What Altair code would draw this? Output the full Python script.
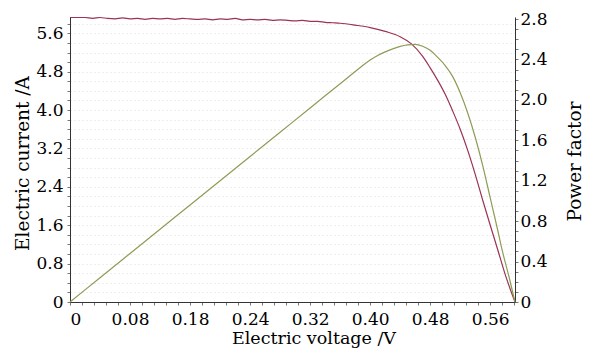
import altair as alt
import pandas as pd

# ---- data ----
voltage_i = [0.00, 0.01, 0.02, 0.03, 0.04, 0.05, 0.06, 0.07, 0.08, 0.09,
             0.10, 0.11, 0.12, 0.13, 0.14, 0.15, 0.16, 0.17, 0.18, 0.19,
             0.20, 0.21, 0.22, 0.23, 0.24, 0.25, 0.26, 0.27, 0.28, 0.29,
             0.30, 0.31, 0.32, 0.33, 0.34, 0.35, 0.36, 0.38, 0.40, 0.42,
             0.44, 0.455, 0.47, 0.48, 0.49, 0.50, 0.51, 0.52, 0.53, 0.54,
             0.55, 0.56, 0.57, 0.58, 0.593]
current = [5.93, 5.93, 5.93, 5.91, 5.93, 5.91, 5.90, 5.92, 5.90, 5.91,
           5.89, 5.91, 5.90, 5.91, 5.89, 5.91, 5.90, 5.89, 5.90, 5.88,
           5.90, 5.89, 5.91, 5.88, 5.89, 5.88, 5.89, 5.87, 5.88, 5.87,
           5.86, 5.87, 5.85, 5.85, 5.83, 5.82, 5.81, 5.77, 5.72, 5.64,
           5.53, 5.38, 5.12, 4.88, 4.62, 4.33, 3.98, 3.60, 3.16, 2.66,
           2.12, 1.60, 1.09, 0.57, 0.00]

voltage_p = [0.00, 0.04, 0.08, 0.12, 0.16, 0.20, 0.24, 0.28, 0.32, 0.36,
             0.38, 0.39, 0.40, 0.41, 0.42, 0.43, 0.44, 0.45, 0.46, 0.47,
             0.48, 0.49, 0.50, 0.51, 0.52, 0.53, 0.54, 0.55, 0.56, 0.57,
             0.576, 0.585, 0.593]
power = [0.00, 0.24, 0.48, 0.72, 0.96, 1.20, 1.44, 1.68, 1.92, 2.16,
         2.28, 2.34, 2.395, 2.44, 2.475, 2.505, 2.53, 2.545, 2.55, 2.53,
         2.49, 2.42, 2.34, 2.23, 2.07, 1.87, 1.63, 1.35, 1.03, 0.71,
         0.51, 0.25, 0.00]

x_major = [0.0, 0.08, 0.16, 0.24, 0.32, 0.40, 0.48, 0.56]
x_labels = ["0", "0.08", "0.18", "0.24", "0.32", "0.40", "0.48", "0.56"]
x_ticks = [round(i * 0.016, 3) for i in range(38)]

yl_major = [0.0, 0.8, 1.6, 2.4, 3.2, 4.0, 4.8, 5.6]
yl_labels = ["0", "0.8", "1.6", "2.4", "3.2", "4.0", "4.8", "5.6"]
yl_ticks = [round(i * 0.2, 2) for i in range(30)]

yr_major = [0.0, 0.4, 0.8, 1.2, 1.6, 2.0, 2.4, 2.8]
yr_labels = ["0", "0.4", "0.8", "1.2", "1.6", "2.0", "2.4", "2.8"]
yr_ticks = [round(i * 0.1, 2) for i in range(29)]

FONT = "DejaVu Serif"
RED = "#9a3354"
GREEN = "#8e9c55"


def label_expr(values, labels):
    expr = "''"
    for v, lab in reversed(list(zip(values, labels))):
        expr = f"(abs(datum.value - {v}) < 0.0005 ? '{lab}' : {expr})"
    return expr


df_i = pd.DataFrame({"V": voltage_i, "I": current})
df_p = pd.DataFrame({"V": voltage_p, "P": power})

x_axis = alt.Axis(
    values=x_ticks, labelExpr=label_expr(x_major, x_labels),
    title="Electric voltage /V", grid=False, labelOverlap=False,
    tickSize=3, labelPadding=6, labelFontSize=17, labelFont=FONT,
    titleFontSize=17.5,
    titleX=243.5, titleY=41, titleAlign="center", titleBaseline="alphabetic",
)
x_enc = alt.X("V:Q", scale=alt.Scale(domain=[0, 0.593], nice=False), axis=x_axis)

left = alt.Chart(df_i).mark_line(color=RED, strokeWidth=1.2, interpolate="monotone").encode(
    x=x_enc,
    y=alt.Y("I:Q", scale=alt.Scale(domain=[0, 5.94], nice=False),
            axis=alt.Axis(orient="left", values=yl_ticks,
                          labelExpr=label_expr(yl_major, yl_labels),
                          title="Electric current /A", grid=True,
                          gridColor="#cfcfcf", gridDash=[1, 3], gridOpacity=0.7,
                          labelOverlap=False, tickSize=3, labelPadding=4,
                          titleFontSize=18.5,
                          titleAngle=270, titleX=-42, titleY=146,
                          titleAlign="center", titleBaseline="alphabetic")),
)

right = alt.Chart(df_p).mark_line(color=GREEN, strokeWidth=1.2, interpolate="monotone").encode(
    x=x_enc,
    y=alt.Y("P:Q", scale=alt.Scale(domain=[0, 2.82], nice=False),
            axis=alt.Axis(orient="right", values=yr_ticks,
                          labelExpr=label_expr(yr_major, yr_labels),
                          title="Power factor", grid=False,
                          labelOverlap=False, tickSize=3, labelPadding=2,
                          titleFontSize=18.5,
                          titleAngle=270, titleX=65, titleY=144,
                          titleAlign="center", titleBaseline="alphabetic")),
)

chart = alt.layer(left, right).resolve_scale(y="independent").properties(
    width=445, height=285,
    autosize=alt.AutoSizeParams(type="none"),
    padding={"left": 70, "top": 17, "right": 82, "bottom": 51},
    background="white",
).configure_view(stroke=None).configure_axis(
    domainColor="#333333", domainWidth=1, tickColor="#555555", tickWidth=0.8,
    labelColor="black", titleColor="black", labelFont=FONT, titleFont=FONT,
    labelFontSize=17, titleFontSize=17, titleFontWeight="normal",
)

chart.save("out.html", embed_options={"renderer": "svg", "actions": False})
